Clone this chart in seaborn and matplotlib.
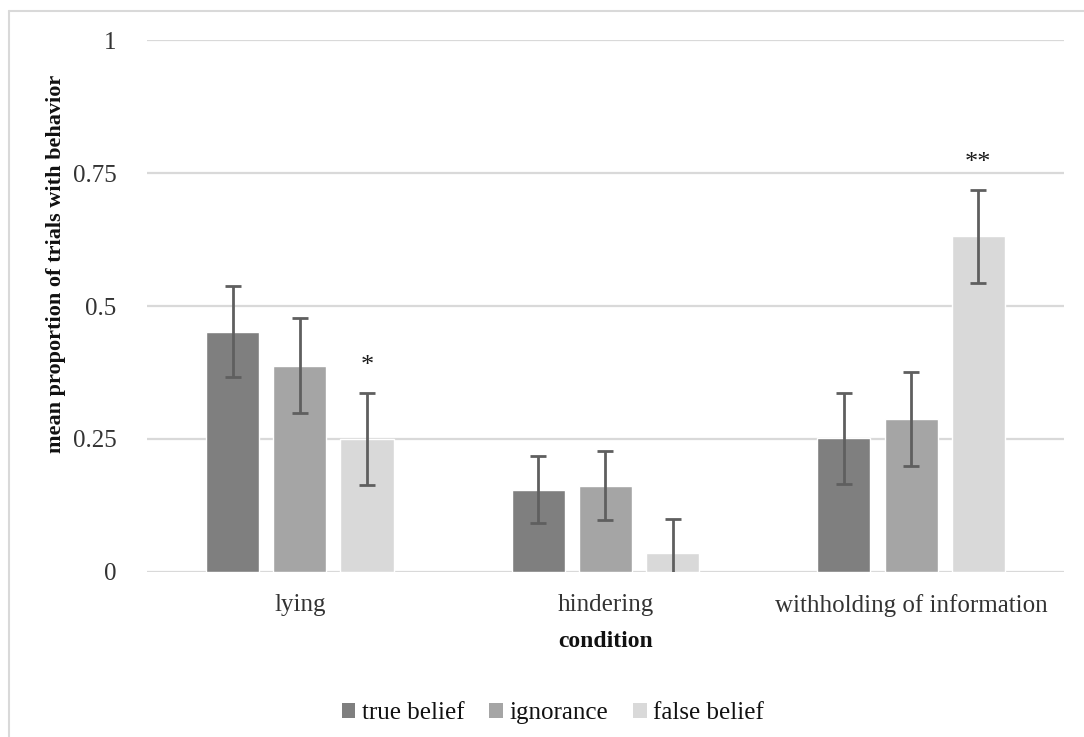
import matplotlib
matplotlib.use("Agg")
import matplotlib.pyplot as plt
from matplotlib.lines import Line2D
import seaborn as sns
import pandas as pd

# Mean proportions per condition and belief group, with error half-widths
conditions = ["lying", "hindering", "withholding of information"]
groups = ["true belief", "ignorance", "false belief"]
true_belief = [0.452, 0.155, 0.251]
ignorance = [0.388, 0.162, 0.288]
false_belief = [0.250, 0.035, 0.631]
err_true_belief = [0.086, 0.063, 0.085]
err_ignorance = [0.089, 0.065, 0.088]
err_false_belief = [0.087, 0.064, 0.087]
stars = ["*", "", "**"]
y_ticks = [0, 0.25, 0.5, 0.75, 1]
y_tick_labels = ["0", "0.25", "0.5", "0.75", "1"]

colors = ["#7f7f7f", "#a5a5a5", "#d9d9d9"]

means = [true_belief, ignorance, false_belief]
errs = [err_true_belief, err_ignorance, err_false_belief]
df = pd.DataFrame({
    "condition": [c for _ in groups for c in conditions],
    "group": [g for g in groups for _ in conditions],
    "value": [v for series in means for v in series],
})

sns.set_theme(style="white")
plt.rcParams["font.family"] = ["Liberation Serif", "DejaVu Serif"]

fig = plt.figure(figsize=(10.84, 7.37), dpi=100)
ax = fig.add_axes([0.1356, 0.2239, 0.8459, 0.7218])

sns.barplot(data=df, x="condition", y="value", hue="group",
            order=conditions, hue_order=groups, palette=colors,
            width=0.66, gap=0.21, saturation=1, errorbar=None,
            legend=False, ax=ax, zorder=3)

# error bars and significance marks centred on each bar
bar_groups = list(ax.containers)
for gi, container in enumerate(bar_groups):
    for ci, bar in enumerate(list(container.patches)):
        xc = bar.get_x() + bar.get_width() / 2
        ax.errorbar(xc, means[gi][ci], yerr=errs[gi][ci], fmt="none",
                    ecolor="#5f5f5f", elinewidth=2, capsize=6, capthick=2,
                    zorder=4)
        if gi == 2 and stars[ci]:
            ax.text(xc, means[gi][ci] + errs[gi][ci] + 0.03, stars[ci],
                    ha="center", va="bottom", fontsize=19, color="#1a1a1a")

ax.set_ylim(0, 1)
ax.set_xlim(-0.5, 2.5)
ax.set_yticks(y_ticks)
ax.set_yticklabels(y_tick_labels)
ax.yaxis.grid(True, color="#d9d9d9", linewidth=1.6, zorder=0)
ax.set_axisbelow(True)
for side in ["top", "right", "left", "bottom"]:
    ax.spines[side].set_visible(False)
ax.tick_params(axis="both", length=0, labelsize=18, colors="#333333")
ax.tick_params(axis="x", pad=16)
ax.tick_params(axis="y", pad=22)

ax.set_xlabel("condition", fontsize=17, fontweight="bold", labelpad=10,
              color="#111111")
ax.set_ylabel("mean proportion of trials with behavior", fontsize=16,
              fontweight="bold", color="#111111")
ax.yaxis.set_label_coords(-0.088, 0.579)

handles = [plt.Rectangle((0, 0), 1, 1, facecolor=c, edgecolor="none")
           for c in colors]
fig.legend(handles, groups, loc="center", bbox_to_anchor=(0.51, 0.032),
           ncol=3, frameon=False, fontsize=18, handlelength=0.55,
           handleheight=0.55, handletextpad=0.25, columnspacing=1.0,
           labelcolor="#111111")

# chart frame along the top and left edges
fig.add_artist(Line2D([9 / 1084, 1], [1 - 11 / 737, 1 - 11 / 737],
                      transform=fig.transFigure, color="#d9d9d9", lw=1.5))
fig.add_artist(Line2D([9 / 1084, 9 / 1084], [0, 1 - 11 / 737],
                      transform=fig.transFigure, color="#d9d9d9", lw=1.5))

fig.savefig("out.png", dpi=100, facecolor="white")
